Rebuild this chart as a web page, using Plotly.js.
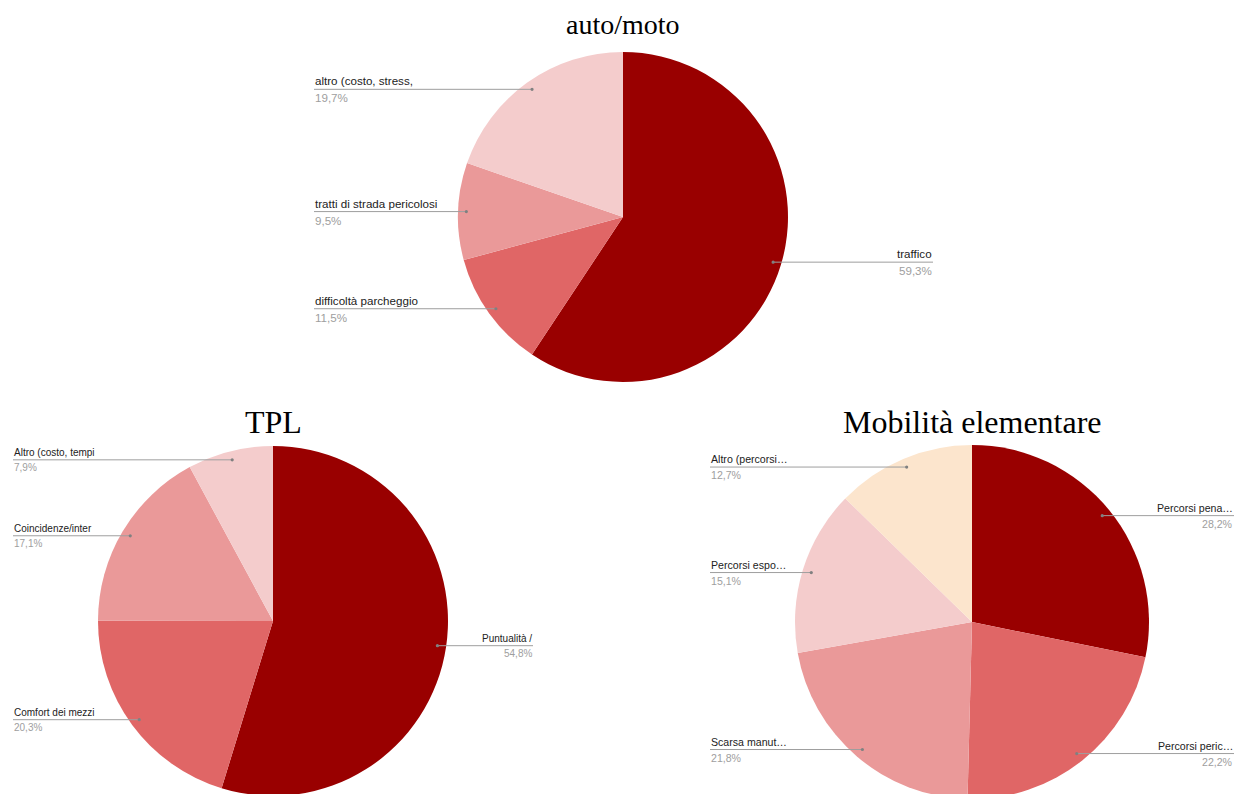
<!DOCTYPE html>
<html>
<head>
<meta charset="utf-8">
<script src="https://cdn.plot.ly/plotly-3.0.1.min.js"></script>
<style>
  html, body { margin: 0; padding: 0; background: #ffffff; overflow: hidden; }
  #chart { width: 1235px; height: 804px; }
</style>
</head>
<body>
<div id="chart"></div>
<script>
// ---- Data ----
const chartTitles = ['auto/moto', 'TPL', 'Mobilità elementare'];

const autoLabels = ['traffico', 'difficoltà parcheggio', 'tratti di strada pericolosi', 'altro (costo, stress,'];
const autoValues = [59.3, 11.5, 9.5, 19.7];

const tplLabels = ['Puntualità /', 'Comfort dei mezzi', 'Coincidenze/inter', 'Altro (costo, tempi'];
const tplValues = [54.8, 20.3, 17.1, 7.9];

const mobLabels = ['Percorsi pena…', 'Percorsi peric…', 'Scarsa manut…', 'Percorsi espo…', 'Altro (percorsi…'];
const mobValues = [28.2, 22.2, 21.8, 15.1, 12.7];

const sliceColors = ['#990000', '#e06666', '#ea9999', '#f4cccc', '#fce5cd'];

// ---- Layout geometry (pixels) ----
const W = 1235, H = 804;
const geom = [
  {cx: 623, cy: 217, r: 165, left: 314, right: 933, fs: 11.6, tfs: 28, ty: 25},
  {cx: 273, cy: 621, r: 175, left: 13,  right: 533, fs: 10, tfs: 32, ty: 422},
  {cx: 972, cy: 622, r: 177, left: 710, right: 1234, fs: 10.6, tfs: 32, ty: 422}
];
const datasets = [
  {labels: autoLabels, values: autoValues},
  {labels: tplLabels, values: tplValues},
  {labels: mobLabels, values: mobValues}
];

function px(x) { return x / W; }
function py(y) { return 1 - y / H; }
function fmt(v) { return v.toFixed(1).replace('.', ',') + '%'; }

const traces = [];
const annotations = [];
const shapes = [];

datasets.forEach((d, i) => {
  const g = geom[i];
  traces.push({
    type: 'pie',
    labels: d.labels,
    values: d.values,
    sort: false,
    direction: 'clockwise',
    rotation: 0,
    textinfo: 'none',
    hoverinfo: 'none',
    marker: {colors: sliceColors.slice(0, d.values.length), line: {width: 0}},
    domain: {x: [px(g.cx - g.r), px(g.cx + g.r)], y: [py(g.cy + g.r), py(g.cy - g.r)]},
    showlegend: false
  });

  annotations.push({
    text: chartTitles[i], showarrow: false,
    x: px(g.cx), y: py(g.ty), xref: 'paper', yref: 'paper',
    xanchor: 'center', yanchor: 'middle',
    font: {family: 'Liberation Serif, Times New Roman, serif', size: g.tfs, color: '#000000'}
  });

  const total = d.values.reduce((a, b) => a + b, 0);
  let cum = 0;
  d.values.forEach((v, k) => {
    const mid = (cum + v / 2) / total * 2 * Math.PI;
    cum += v;
    const rr = 0.95 * g.r;
    const dx = g.cx + Math.sin(mid) * rr;
    const dy = g.cy - Math.cos(mid) * rr;
    const isLeft = dx < g.cx;
    const lx = isLeft ? g.left : g.right;
    shapes.push({
      type: 'line', xref: 'paper', yref: 'paper',
      x0: px(lx), x1: px(dx), y0: py(dy), y1: py(dy),
      line: {color: '#9e9e9e', width: 1}
    });
    shapes.push({
      type: 'circle', xref: 'paper', yref: 'paper',
      x0: px(dx - 1.6), x1: px(dx + 1.6), y0: py(dy + 1.6), y1: py(dy - 1.6),
      fillcolor: '#808080', line: {width: 0}
    });
    annotations.push({
      text: d.labels[k], showarrow: false,
      x: px(lx), y: py(dy), xref: 'paper', yref: 'paper',
      xanchor: isLeft ? 'left' : 'right', yanchor: 'bottom',
      xshift: isLeft ? -1 : 1,
      font: {family: 'Liberation Sans, Arial, sans-serif', size: g.fs, color: '#222222'}
    });
    annotations.push({
      text: fmt(v), showarrow: false,
      x: px(lx), y: py(dy), xref: 'paper', yref: 'paper',
      xanchor: isLeft ? 'left' : 'right', yanchor: 'top',
      xshift: isLeft ? -1 : 1,
      font: {family: 'Liberation Sans, Arial, sans-serif', size: g.fs, color: '#9e9e9e'}
    });
  });
});

const layout = {
  width: W, height: H,
  margin: {l: 0, r: 0, t: 0, b: 0},
  paper_bgcolor: '#ffffff',
  plot_bgcolor: '#ffffff',
  showlegend: false,
  annotations: annotations,
  shapes: shapes
};

Plotly.newPlot('chart', traces, layout, {staticPlot: true, displayModeBar: false});
</script>
</body>
</html>
